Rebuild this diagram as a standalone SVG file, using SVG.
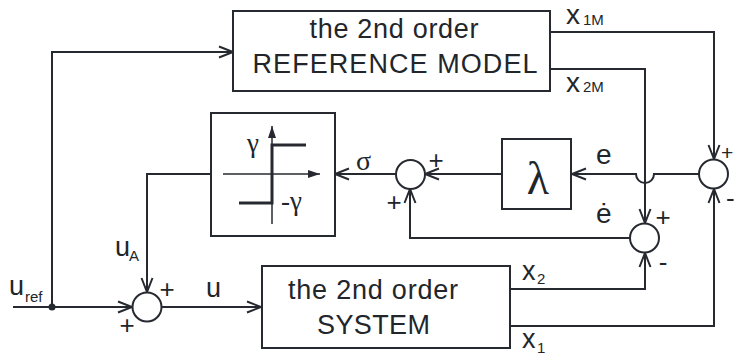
<svg xmlns="http://www.w3.org/2000/svg" width="734" height="355" viewBox="0 0 734 355">
<style>
.ln{fill:none;stroke:#262a30;stroke-width:2}
.bx{fill:#fff;stroke:#262a30;stroke-width:2}
.t{font-family:"Liberation Sans",Arial,sans-serif;fill:#22262b}
.s{font-family:"Liberation Serif","Times New Roman",serif;fill:#22262b}
.a{marker-end:url(#ar)}
</style>
<defs>
<marker id="ar" markerUnits="userSpaceOnUse" markerWidth="20" markerHeight="20" refX="15" refY="10" orient="auto" viewBox="0 0 20 20">
<path d="M1,4.5 L15,10 L1,15.5" fill="none" stroke="#262a30" stroke-width="2"/>
</marker>
<marker id="ars" markerUnits="userSpaceOnUse" markerWidth="20" markerHeight="20" refX="15" refY="10" orient="auto" viewBox="0 0 20 20">
<path d="M3,6 L15,10 L3,14 Z" fill="#262a30" stroke="none"/>
</marker>
</defs>
<g id="connectors">
<path class="ln a" d="M52,307 L52,52 L233,52"/>
<path class="ln a" d="M13,307 L132,307"/>
<path class="ln a" d="M162,307 L261,307"/>
<path class="ln a" d="M211,174 L147,174 L147,292"/>
<path class="ln a" d="M396,174 L335,174"/>
<path class="ln a" d="M502,174 L425,174"/>
<path class="ln a" d="M699,174 L654,174 A9,9 0 0 1 636,174 L572,174"/>
<path class="ln a" d="M550,32 L714,32 L714,159"/>
<path class="ln a" d="M550,69 L645,69 L645,223"/>
<path class="ln a" d="M630,238 L410,238 L410,189"/>
<path class="ln a" d="M510,289 L645,289 L645,253"/>
<path class="ln a" d="M510,326 L714,326 L714,189"/>
<circle cx="52" cy="307" r="3.5" fill="#262a30"/>
</g>
<g id="refmodel">
<rect class="bx" x="233" y="11" width="317" height="80"/>
<text class="t" x="394" y="38" font-size="27" text-anchor="middle" textLength="169">the 2nd order</text>
<text class="t" x="395" y="73" font-size="27" text-anchor="middle" textLength="285">REFERENCE MODEL</text>
</g>
<g id="system">
<rect class="bx" x="262" y="266" width="248" height="82"/>
<text class="t" x="373" y="299" font-size="27" text-anchor="middle" textLength="170">the 2nd order</text>
<text class="t" x="373.5" y="334" font-size="27" text-anchor="middle" textLength="113">SYSTEM</text>
</g>
<g id="relay">
<rect class="bx" x="211" y="113" width="124" height="123"/>
<path d="M272,224 L272,126" fill="none" stroke="#262a30" stroke-width="1.5" marker-end="url(#ars)"/>
<path d="M223,174 L320,174" fill="none" stroke="#262a30" stroke-width="1.5" marker-end="url(#ars)"/>
<path d="M306,145 L272,145 L272,203 L239,203" fill="none" stroke="#262a30" stroke-width="3"/>
<text class="s" x="247" y="152" font-size="27">γ</text>
<text class="s" x="281" y="210" font-size="27">-γ</text>
</g>
<g id="lambda">
<rect class="bx" x="502" y="139" width="69" height="70"/>
<text class="s" x="538" y="194" font-size="46" text-anchor="middle">λ</text>
</g>
<g id="sum1">
<circle class="bx" cx="147" cy="307" r="14.5"/>
<text class="t" x="167" y="298" font-size="26" text-anchor="middle">+</text>
<text class="t" x="127" y="334" font-size="26" text-anchor="middle">+</text>
</g>
<g id="sum2">
<circle class="bx" cx="410.5" cy="174.5" r="14.5"/>
<text class="t" x="436" y="169" font-size="26" text-anchor="middle">+</text>
<text class="t" x="394" y="211" font-size="26" text-anchor="middle">+</text>
</g>
<g id="sum3">
<circle class="bx" cx="644.5" cy="238" r="14.5"/>
<text class="t" x="663" y="226" font-size="26" text-anchor="middle">+</text>
<text class="t" x="663" y="271" font-size="26" text-anchor="middle">-</text>
</g>
<g id="sum4">
<circle class="bx" cx="713.5" cy="174" r="14.5"/>
<text class="t" x="721" y="160" font-size="21">+</text>
<text class="t" x="726" y="207" font-size="26">-</text>
</g>
<g id="labels">
<text class="t" x="9" y="295" font-size="27">u</text>
<text class="t" x="25" y="302" font-size="15">ref</text>
<text class="t" x="115" y="256" font-size="27">u</text>
<text class="t" x="129" y="261" font-size="15">A</text>
<text class="t" x="206" y="297" font-size="27">u</text>
<text class="t" x="566" y="24" font-size="28">x</text>
<text class="t" x="583" y="25" font-size="15">1M</text>
<text class="t" x="566" y="92" font-size="28">x</text>
<text class="t" x="583" y="92" font-size="15">2M</text>
<text class="t" x="522" y="280" font-size="27">x</text>
<text class="t" x="537" y="284" font-size="15">2</text>
<text class="t" x="522" y="348" font-size="27">x</text>
<text class="t" x="537" y="353" font-size="15">1</text>
<text class="t" x="596" y="164" font-size="28">e</text>
<text class="t" x="596" y="223" font-size="28">ė</text>
<text class="s" x="356" y="170" font-size="28">σ</text>
</g>
</svg>
